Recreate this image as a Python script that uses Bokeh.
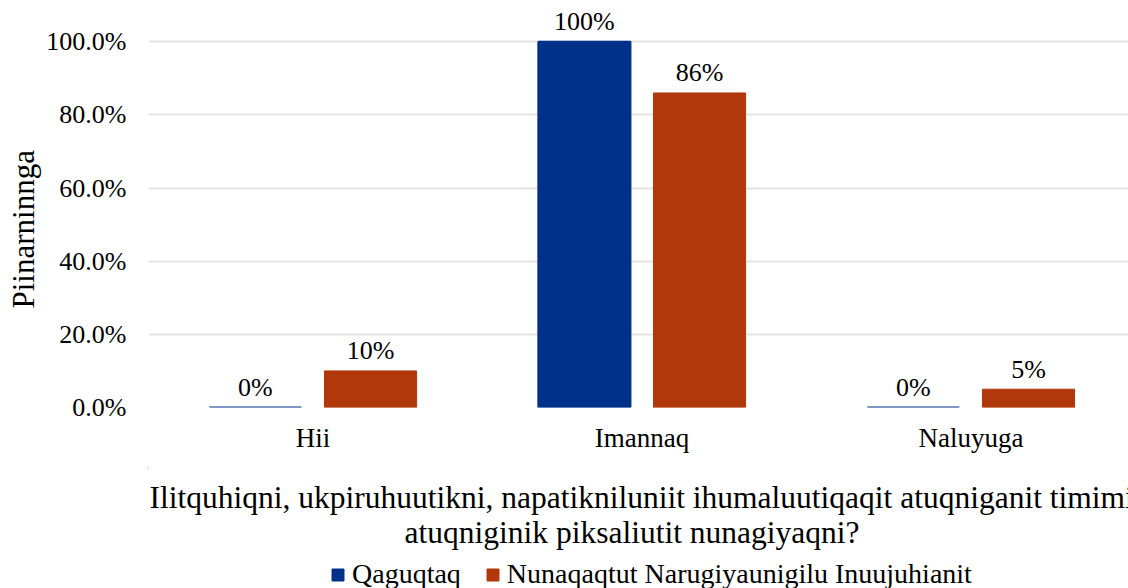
import math
from bokeh.plotting import figure
from bokeh.layouts import column
from bokeh.models import (Range1d, FixedTicker, PrintfTickFormatter, ColumnDataSource,
                          Legend, LegendItem, Title, Label)
from bokeh.core.properties import value
from bokeh.embed import file_html
from bokeh.resources import INLINE

categories = ["Hii", "Imannaq", "Naluyuga"]
series_names = ["Qaguqtaq", "Nunaqaqtut Narugiyaunigilu Inuujuhianit"]
qaguqtaq = [0, 100, 0]
nunaqaqtut = [10, 86, 5]
y_ticks = [0, 20, 40, 60, 80, 100]
x_title_lines = ["Ilitquhiqni, ukpiruhuutikni, napatikniluniit ihumaluutiqaqit atuqniganit timimi",
                 "atuqniginik piksaliutit nunagiyaqni?"]
y_title = "Piinarninnga"

FONT = "Liberation Serif"
BLUE = "#00318A"
ORANGE = "#B1380B"
GRID = "#E3E3E3"

n = len(categories)
cx = [i + 0.5 for i in range(n)]
offset = 0.175
bar_w = 0.28

src1 = ColumnDataSource(dict(x=[c - offset for c in cx], top=qaguqtaq,
                             label=[f"{v}%" for v in qaguqtaq]))
src2 = ColumnDataSource(dict(x=[c + offset for c in cx], top=nunaqaqtut,
                             label=[f"{v}%" for v in nunaqaqtut]))

# ---------------- main chart ----------------
p = figure(frame_width=980, frame_height=395, output_backend="svg", toolbar_location=None,
           x_range=Range1d(0, 2.979), y_range=Range1d(0, 108),
           min_border_left=148, min_border_right=0, min_border_top=12,
           min_border_bottom=60, outline_line_color=None)

r1 = p.vbar(x='x', top='top', width=bar_w, source=src1,
            fill_color=BLUE, line_color=BLUE, line_width=2)
r2 = p.vbar(x='x', top='top', width=bar_w, source=src2,
            fill_color=ORANGE, line_color=ORANGE, line_width=1)

for s in (src1, src2):
    p.text(x='x', y='top', text='label', source=s, text_align='center',
           text_baseline='alphabetic', y_offset=-20, text_font=value(FONT),
           text_font_size='26px', text_color='black')

p.xgrid.visible = False
p.ygrid.ticker = FixedTicker(ticks=y_ticks)
p.ygrid.grid_line_color = GRID
p.ygrid.grid_line_width = 2

p.yaxis.ticker = FixedTicker(ticks=y_ticks)
p.yaxis.formatter = PrintfTickFormatter(format="%.1f%%")
p.yaxis.axis_line_color = None
p.yaxis.major_tick_line_color = None
p.yaxis.minor_tick_line_color = None
p.yaxis.major_label_standoff = 16
p.yaxis.major_label_text_font = FONT
p.yaxis.major_label_text_font_size = '26px'
p.yaxis.major_label_text_color = 'black'

p.xaxis.ticker = FixedTicker(ticks=cx)
p.xaxis.major_label_overrides = {c: name for c, name in zip(cx, categories)}
p.xaxis.axis_line_color = None
p.xaxis.major_tick_line_color = None
p.xaxis.minor_tick_line_color = None
p.xaxis.major_label_standoff = 9
p.xaxis.major_label_text_font = FONT
p.xaxis.major_label_text_font_size = '27px'
p.xaxis.major_label_text_color = 'black'

p.add_layout(Title(text=y_title, align='left', offset=99, standoff=5,
                   text_font=FONT, text_font_size='31px', text_font_style='normal',
                   text_color='black'), 'left')

# ---------------- x title + legend strip ----------------
# the strip's frame is aligned with the main frame (starts at page x 148)
q = figure(frame_width=1128, frame_height=121, output_backend="svg", toolbar_location=None,
           x_range=Range1d(148, 1276), y_range=Range1d(121, 0),
           x_axis_type=None, y_axis_type=None, min_border=0,
           outline_line_color=None)
q.grid.visible = False

q.add_layout(Label(x=149, y=30, text=x_title_lines[0], text_align='left',
                   text_baseline='alphabetic', text_font=FONT,
                   text_font_size='31.5px', text_color='black'))
q.add_layout(Label(x=631.5, y=65, text=x_title_lines[1], text_align='center',
                   text_baseline='alphabetic', text_font=FONT,
                   text_font_size='31.5px', text_color='black'))

# legend keys (drawn off-screen; only their swatches appear in the legend)
k1 = q.vbar(x=[-1000], top=[0], width=1, fill_color=BLUE, line_color=BLUE)
k2 = q.vbar(x=[-1000], top=[0], width=1, fill_color=ORANGE, line_color=ORANGE)

legend = Legend(items=[LegendItem(label=series_names[0], renderers=[k1]),
                       LegendItem(label=series_names[1], renderers=[k2])],
                orientation='horizontal', location=(330, -2),
                glyph_width=15, glyph_height=15, label_standoff=7, spacing=24,
                padding=0, margin=0, border_line_color=None,
                background_fill_alpha=0,
                label_text_font=FONT, label_text_font_size='28px',
                label_text_color='black')
q.add_layout(legend, 'center')

layout = column(p, q, spacing=0)
open("out.html", "w").write(file_html(layout, INLINE))
